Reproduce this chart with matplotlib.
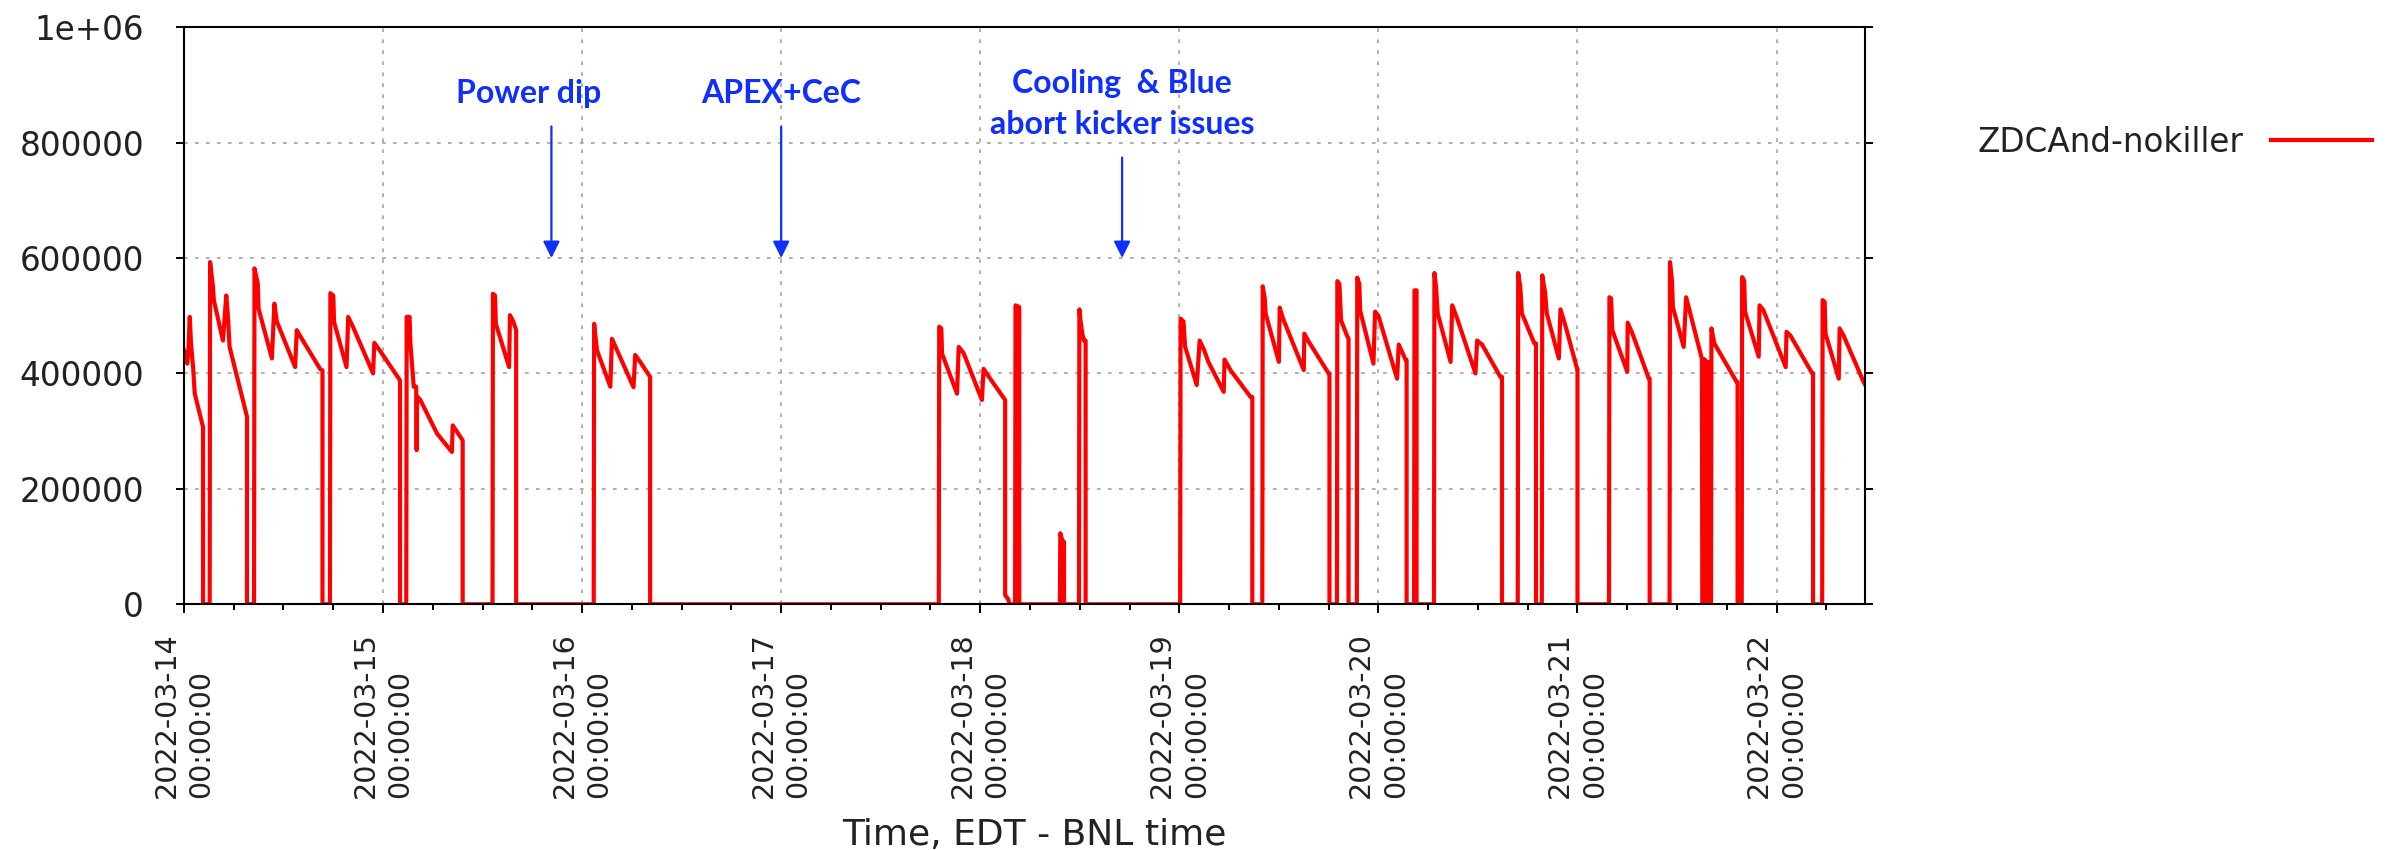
import pandas as pd
import matplotlib
matplotlib.use("Agg")
import matplotlib.pyplot as plt

# ZDC coincidence rate: hours after 2022-03-14 00:00 and rate in thousands
hours = [
    0.0, 0.4, 0.55, 0.7, 0.85, 1.1, 1.3, 1.7, 2.3, 2.3,
    3.1, 3.15, 3.5, 3.6, 4.7, 5.1, 5.3, 5.5, 7.6, 7.6,
    8.45, 8.5, 8.9, 9.0, 10.6, 10.9, 11.2, 13.4, 13.6, 14.0, 16.4, 16.7, 16.7,
    17.6, 17.65, 18.0, 18.1, 19.6, 19.8, 20.4, 22.8, 22.95, 23.6, 26.05, 26.05,
    26.8, 26.85, 27.2, 27.3, 27.7, 28.0, 28.05, 28.1, 28.5, 30.5, 32.3, 32.4, 33.6, 33.6,
    37.2, 37.25, 37.5, 37.6, 39.2, 39.3, 39.7, 40.05, 40.05,
    49.4, 49.45, 49.6, 49.8, 51.4, 51.6, 54.2, 54.4, 55.0, 56.2, 56.2,
    91.0, 91.05, 91.3, 91.4, 93.2, 93.4, 94.0, 96.2, 96.4, 97.0, 99.0, 99.0, 99.4, 99.5,
    100.2, 100.25, 100.7, 100.7,
    105.6, 105.65, 105.9, 106.1, 106.1,
    107.9, 107.95, 108.1, 108.3, 108.5, 108.7, 108.7,
    120.1, 120.15, 120.5, 120.7, 122.1, 122.45, 123.0, 123.5, 125.35, 125.45, 126.2, 128.6, 128.8, 128.8,
    130.0, 130.05, 130.3, 130.4, 132.0, 132.1, 132.5, 135.0, 135.07, 135.6, 138.0, 138.1, 138.1,
    139.0, 139.05, 139.3, 139.5, 140.2, 140.4, 140.4,
    141.4, 141.45, 141.7, 141.8, 143.4, 143.6, 144.0, 146.25, 146.45, 147.3, 147.4, 147.4,
    148.3, 148.35, 148.6, 148.6,
    150.7, 150.75, 150.95, 151.15, 152.7, 152.9, 153.5, 155.7, 155.9, 156.5, 158.7, 158.9, 158.9,
    160.8, 160.85, 161.1, 161.3, 162.8, 163.0, 163.0,
    163.7, 163.75, 164.1, 164.3, 165.75, 165.95, 166.6, 167.95, 168.0, 168.0,
    171.8, 171.85, 172.05, 172.2, 174.0, 174.05, 174.6, 176.6, 176.7, 176.7,
    179.1, 179.15, 179.4, 179.5, 180.8, 181.1, 181.4, 183.0, 183.05, 183.2, 183.25, 183.45,
    183.5, 183.7, 183.75, 183.95, 184.0, 184.1, 184.15, 184.5, 187.2, 187.3, 187.3,
    187.8, 187.85, 188.1, 188.2, 189.85, 189.95, 190.4, 193.1, 193.2, 193.7, 196.3, 196.4, 196.4,
    197.5, 197.55, 197.8, 197.9, 199.5, 199.6, 200.1, 202.5, 202.7,
]
rate_k = [
    440, 417, 445, 498, 452, 411, 365, 342, 307, 0,
    0, 593, 550, 527, 457, 535, 500, 446, 325, 0,
    0, 582, 556, 512, 426, 521, 490, 411, 475, 465, 408, 405, 0,
    0, 539, 535, 489, 411, 498, 480, 400, 453, 440, 388, 0,
    0, 498, 498, 452, 377, 377, 267, 360, 354, 296, 264, 310, 284, 0,
    0, 538, 535, 486, 411, 501, 490, 475, 0,
    0, 486, 465, 440, 377, 460, 376, 432, 420, 394, 0,
    0, 481, 478, 434, 365, 446, 435, 354, 408, 395, 354, 16, 8, 0,
    0, 518, 515, 0,
    0, 123, 110, 108, 0,
    0, 511, 490, 469, 457, 457, 0,
    0, 495, 490, 446, 380, 457, 440, 420, 368, 424, 405, 359, 359, 0,
    0, 551, 530, 504, 420, 514, 495, 406, 469, 455, 400, 400, 0,
    0, 560, 555, 492, 466, 460, 0,
    0, 566, 555, 509, 417, 507, 500, 391, 450, 423, 423, 0,
    0, 544, 544, 0,
    0, 574, 550, 504, 420, 518, 495, 400, 457, 450, 394, 394, 0,
    0, 574, 550, 504, 452, 452, 0,
    0, 570, 540, 504, 426, 511, 480, 408, 408, 0,
    0, 532, 530, 475, 403, 488, 470, 391, 391, 0,
    0, 593, 560, 515, 446, 532, 515, 425, 0, 0, 425, 422,
    0, 0, 420, 418, 0, 0, 478, 452, 385, 385, 0,
    0, 567, 560, 507, 429, 518, 510, 411, 472, 465, 400, 400, 0,
    0, 527, 524, 469, 391, 478, 465, 385, 380,
]

series_name = "ZDCAnd-nokiller"
day_ticks = ["2022-03-14", "2022-03-15", "2022-03-16", "2022-03-17",
             "2022-03-18", "2022-03-19", "2022-03-20", "2022-03-21", "2022-03-22"]
day_labels = [d + "\n00:00:00" for d in day_ticks]
ytick_vals = [0, 200000, 400000, 600000, 800000, 1000000]
ytick_labels = ["0", "200000", "400000", "600000", "800000", "1e+06"]

note_labels = ["Power dip", "APEX+CeC", "Cooling  & Blue\nabort kicker issues"]
note_hours = [44.3, 72.0, 113.1]

start = pd.Timestamp("2022-03-14")
t = (start + pd.to_timedelta(hours, unit="h")).to_numpy()
y = [v * 1000 for v in rate_k]

def at(h):
    return (start + pd.Timedelta(hours=h)).to_datetime64()

fig = plt.figure(figsize=(23.86, 8.5), dpi=100)
ax = fig.add_axes([0.0771, 0.2891, 0.7045, 0.6789])

ax.plot(t, y, color="#ff0000", lw=3.0, label=series_name)

ax.set_xlim(at(0), at(202.65))
ax.set_ylim(0, 1000000)

# ticks and grid
ax.set_xticks([pd.Timestamp(d).to_datetime64() for d in day_ticks])
ax.set_xticklabels(day_labels, rotation=90, fontsize=20.5, color="#222222",
                   multialignment="left", linespacing=1.3)
minor = pd.date_range("2022-03-14", "2022-03-22 06:00", freq="6h")
ax.set_xticks(minor.to_numpy(), minor=True)
ax.set_yticks(ytick_vals)
ax.set_yticklabels(ytick_labels)

ax.tick_params(axis="y", direction="out", length=5.8, width=1.4, pad=23,
               labelsize=23.5, labelcolor="#222222", right=True)
ax.tick_params(axis="x", which="major", direction="out", length=6.5, width=1.4, pad=13.5)
ax.tick_params(axis="x", which="minor", direction="out", length=4, width=1.4)

ax.set_axisbelow(True)
ax.grid(True, which="major", color="#9a9a9a", lw=1.1, linestyle=(0, (2.4, 4.8)))
for s in ax.spines.values():
    s.set_linewidth(1.5)
    s.set_color("black")

ax.set_xlabel("Time, EDT - BNL time", fontsize=26, color="#222222")
ax.xaxis.set_label_coords(0.506, -0.37)

# annotations
blue = "#0f2fff"
text_pos = [(41.5, 885000), (72.0, 885000), (113.1, 867000)]
tails = [828000, 828000, 774000]
for lab, h, (th, ty), tail in zip(note_labels, note_hours, text_pos, tails):
    ax.text(at(th), ty, lab, ha="center", va="center", color=blue, fontsize=23,
            fontweight="bold", family="Lato", linespacing=1.5)
    ax.annotate("", xy=(at(h), 600000), xytext=(at(h), tail),
                arrowprops=dict(arrowstyle="-|>", color=blue, lw=1.6,
                                mutation_scale=25, shrinkA=0, shrinkB=0))

ax.legend(loc="center right", bbox_to_anchor=(2372 / 2386, 1 - 142 / 850),
          bbox_transform=fig.transFigure, frameon=False, markerfirst=False,
          fontsize=23.5, handlelength=3.1, handletextpad=0.85, borderpad=0,
          borderaxespad=0, labelcolor="#222222")

fig.savefig("out.png", dpi=100)
